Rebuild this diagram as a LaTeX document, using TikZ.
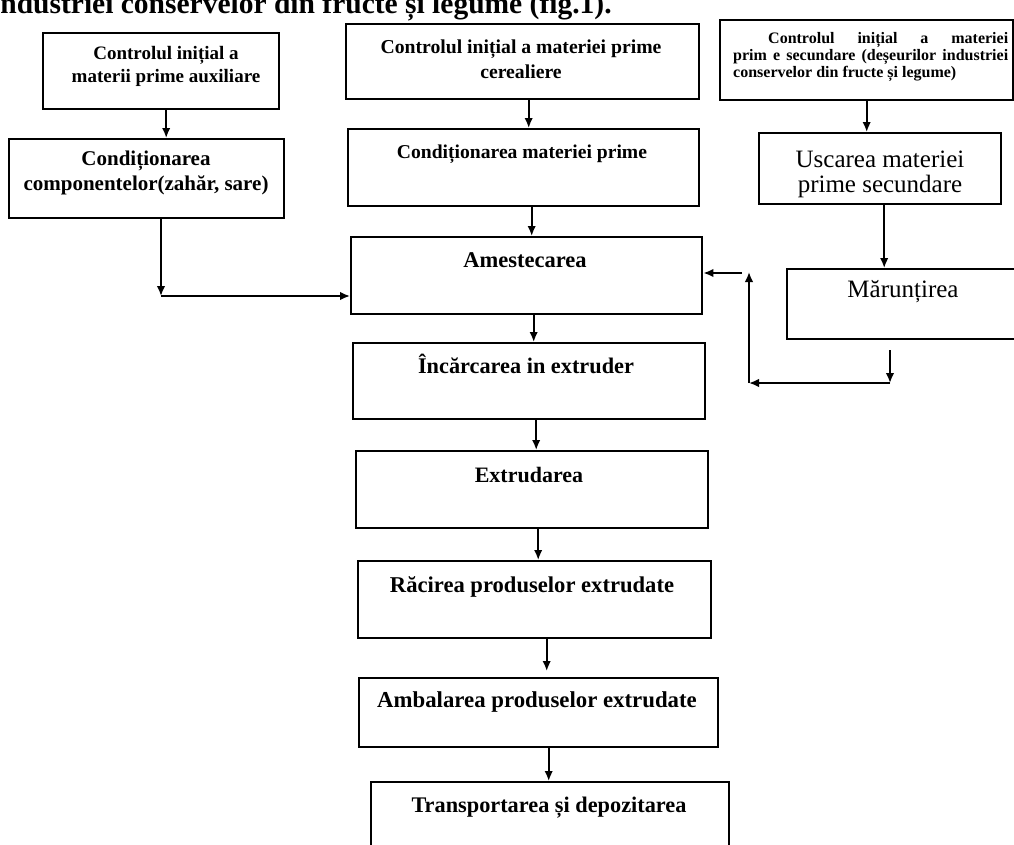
\documentclass[tikz,border=0pt]{standalone}
\usepackage{fontspec}
\setmainfont{Liberation Serif}
\usetikzlibrary{arrows.meta}
\tikzset{
  box/.style={draw, rectangle, line width=2.4pt, anchor=north west, inner sep=0pt},
  txt/.style={anchor=base, inner sep=0pt},
  arr/.style={line width=1.8pt, -{Latex[length=10pt,width=8.5pt]}},
}
\begin{document}
\begin{tikzpicture}[x=1pt,y=-1pt]
\fill[white] (0,0) rectangle (1014,844);
\useasboundingbox (0,0) rectangle (1014,844);
% header (clipped at top, as in the scan)
\node[anchor=base west, inner sep=0pt, font=\fontsize{29.5}{34}\selectfont\bfseries] (hdr) at (-8,13) {industriei conservelor din fructe și legume (fig.1).};
% boxes
\node[box, minimum width=236pt, minimum height=76pt] (A) at (42,32) {};
\node[box, minimum width=275pt, minimum height=79pt] (B) at (8,138) {};
\node[box, minimum width=353pt, minimum height=75pt] (C) at (345,23) {};
\node[box, minimum width=351pt, minimum height=77pt] (D) at (347,128) {};
\node[box, minimum width=293pt, minimum height=80pt] (E) at (719,19) {};
\node[box, minimum width=242pt, minimum height=71pt] (F) at (758,132) {};
\node[box, minimum width=351pt, minimum height=77pt] (Am) at (350,236) {};
\node[box, minimum width=234pt, minimum height=70pt] (Ma) at (786,268) {};
\node[box, minimum width=352pt, minimum height=76pt] (In) at (352,342) {};
\node[box, minimum width=352pt, minimum height=77pt] (Ex) at (355,450) {};
\node[box, minimum width=353pt, minimum height=77pt] (Ra) at (357,560) {};
\node[box, minimum width=359pt, minimum height=69pt] (Amb) at (358,677) {};
\node[box, minimum width=358pt, minimum height=80pt] (Tr) at (370,781) {};
% texts
\node[txt] (tA) at (166,59) {\parbox[t]{260pt}{\centering\fontsize{19}{23}\selectfont\bfseries Controlul inițial a\\materii prime auxiliare}};
\node[txt] (tB) at (146,165) {\parbox[t]{270pt}{\centering\fontsize{21}{25}\selectfont\bfseries Condiționarea\\componentelor(zahăr, sare)}};
\node[txt] (tC) at (521,53) {\parbox[t]{340pt}{\centering\fontsize{19.7}{25}\selectfont\bfseries Controlul inițial a materiei prime\\cerealiere}};
\node[txt, font=\fontsize{19.6}{24}\selectfont\bfseries] (tD) at (522,158) {Condiționarea materiei prime};
\node[txt, anchor=base west] (tE) at (733,43) {\parbox[t]{275pt}{\fontsize{16}{17}\selectfont\bfseries\parindent=35pt Controlul inițial a materiei\linebreak prim e secundare (deșeurilor industriei\linebreak conservelor din fructe și legume)}};
\node[txt] (tF) at (880,167) {\parbox[t]{240pt}{\centering\fontsize{25}{25}\selectfont Uscarea materiei\\prime secundare}};
\node[txt, font=\fontsize{25}{30}\selectfont] (tMa) at (903,297) {Mărunțirea};
\node[txt, font=\fontsize{22.5}{27}\selectfont\bfseries] (tAm) at (525,267) {Amestecarea};
\node[txt, font=\fontsize{22.3}{27}\selectfont\bfseries] (tIn) at (526,373) {Încărcarea in extruder};
\node[txt, font=\fontsize{22}{27}\selectfont\bfseries] (tEx) at (529,482) {Extrudarea};
\node[txt, font=\fontsize{22.6}{27}\selectfont\bfseries] (tRa) at (532,592) {Răcirea produselor extrudate};
\node[txt, font=\fontsize{22.8}{27}\selectfont\bfseries] (tAmb) at (537,707) {Ambalarea produselor extrudate};
\node[txt, font=\fontsize{22.3}{27}\selectfont\bfseries] (tTr) at (549,812) {Transportarea și depozitarea};
% connectors
\draw[arr] ([xshift=5pt]A.south) -- ([xshift=5pt]A.south |- B.north);
\coordinate (bc) at (161,296);
\draw[arr] (B.south -| bc) -- (bc);
\draw[arr] (bc) -- (bc -| Am.west);
\draw[arr] ([xshift=6pt]C.south) -- ([xshift=6pt]C.south |- D.north);
\draw[arr] ([xshift=8pt]D.south) -- ([xshift=8pt]D.south |- Am.north);
\draw[arr] ([xshift=7pt]Am.south) -- ([xshift=7pt]Am.south |- In.north);
\draw[arr] ([xshift=7pt]In.south) -- ([xshift=7pt]In.south |- Ex.north);
\draw[arr] ([xshift=6pt]Ex.south) -- ([xshift=6pt]Ex.south |- Ra.north);
\draw[arr, shorten >=6pt] ([xshift=12pt]Ra.south) -- ([xshift=12pt]Ra.south |- Amb.north);
\draw[arr] ([xshift=10pt]Amb.south) -- ([xshift=10pt]Amb.south |- Tr.north);
\draw[arr] (E.south) -- (E.south |- F.north);
\draw[arr] ([xshift=4pt]F.south) -- ([xshift=4pt]F.south |- Ma.north);
\coordinate (m2) at (890,383);
\coordinate (m3) at (749,383);
\coordinate (m4) at (749,272);
\coordinate (m5) at (742,273);
\draw[arr, shorten <=10pt] (Ma.south -| m2) -- (m2);
\draw[arr] (m2) -- (m3);
\draw[arr] (m3) -- (m4);
\draw[arr] (m5) -- (m5 -| Am.east);
\end{tikzpicture}
\end{document}
